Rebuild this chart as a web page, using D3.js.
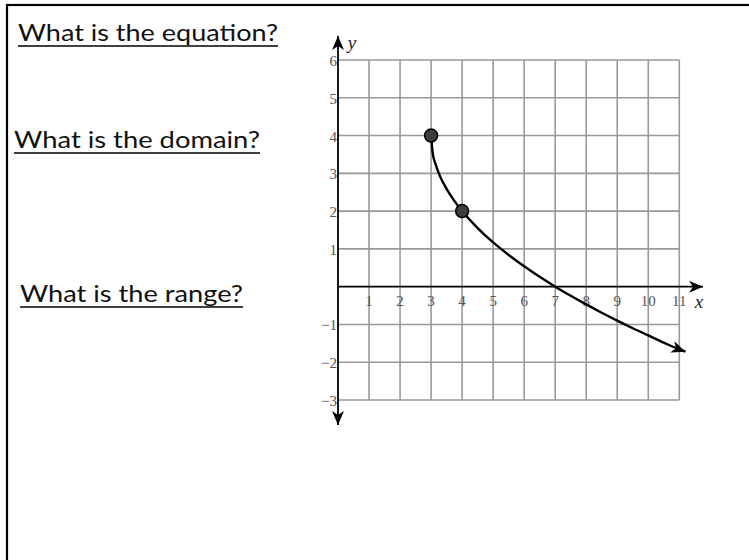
<!DOCTYPE html>
<html>
<head>
<meta charset="utf-8">
<script src="https://cdn.jsdelivr.net/npm/d3@7"></script>
<style>
  html, body { margin: 0; padding: 0; background: #fff; }
  svg { display: block; }
</style>
</head>
<body>
<svg id="chart" width="749" height="560"></svg>
<script>
// Curve samples (x, y) of the graphed function, from its starting point to the arrow tip
const curveX = [3, 3.05, 3.15, 3.3, 3.5, 3.75, 4, 4.5, 5, 5.5, 6, 6.5, 7, 7.5, 8, 8.5, 9, 9.5, 10, 10.5, 11, 11.2];
const curveY = [4, 3.55, 3.23, 2.9, 2.59, 2.27, 2, 1.55, 1.17, 0.84, 0.54, 0.26, 0, -0.24, -0.47, -0.69, -0.9, -1.1, -1.29, -1.48, -1.66, -1.72];

// Highlighted points on the curve
const dotX = [3, 4];
const dotY = [4, 2];

// Axis tick labels
const xTicks = [1, 2, 3, 4, 5, 6, 7, 8, 9, 10, 11];
const yTicks = [-3, -2, -1, 1, 2, 3, 4, 5, 6];

// Grid extents
const xGrid = [0, 1, 2, 3, 4, 5, 6, 7, 8, 9, 10, 11];
const yGrid = [-3, -2, -1, 0, 1, 2, 3, 4, 5, 6];

// Questions beside the graph
const questions = ["What is the equation?", "What is the domain?", "What is the range?"];

const svg = d3.select("#chart");

// Page frame (only top and left edges fall inside the view)
svg.append("rect")
  .attr("x", 7).attr("y", 5)
  .attr("width", 760).attr("height", 580)
  .attr("fill", "none").attr("stroke", "#000").attr("stroke-width", 2.2);

// Questions
const qPos = [
  { x: 18, y: 41, w: 260, u: 46 },
  { x: 14, y: 148, w: 246, u: 153 },
  { x: 20, y: 302, w: 223, u: 307 }
];
questions.forEach((q, i) => {
  const p = qPos[i];
  svg.append("text")
    .attr("x", p.x).attr("y", p.y)
    .attr("font-family", "Lato, 'Open Sans', sans-serif")
    .attr("font-size", 23.5)
    .attr("fill", "#111")
    .attr("textLength", p.w)
    .attr("lengthAdjust", "spacingAndGlyphs")
    .text(q);
  svg.append("line")
    .attr("x1", p.x).attr("x2", p.x + p.w)
    .attr("y1", p.u).attr("y2", p.u)
    .attr("stroke", "#000").attr("stroke-width", 1.6);
});

// Scales
const x = d3.scaleLinear().domain([0, 11]).range([338, 679.3]);
const y = d3.scaleLinear().domain([-3, 6]).range([400, 60]);

// Grid
const grid = svg.append("g").attr("stroke", "#999").attr("stroke-width", 1.6);
grid.selectAll("line.v").data(xGrid.slice(1)).join("line")
  .attr("class", "v")
  .attr("x1", d => x(d)).attr("x2", d => x(d))
  .attr("y1", y(6)).attr("y2", y(-3));
grid.selectAll("line.h").data(yGrid.filter(d => d !== 0)).join("line")
  .attr("class", "h")
  .attr("x1", x(0)).attr("x2", x(11))
  .attr("y1", d => y(d)).attr("y2", d => y(d));

// Arrowhead marker
const defs = svg.append("defs");
defs.append("marker")
  .attr("id", "arrow")
  .attr("viewBox", "-14 -7 16 14")
  .attr("markerWidth", 16).attr("markerHeight", 14)
  .attr("markerUnits", "userSpaceOnUse")
  .attr("refX", 0).attr("refY", 0)
  .attr("orient", "auto")
  .append("path")
  .attr("d", "M0,0 L-14,-6 L-10,0 L-14,6 Z")
  .attr("fill", "#000");

// Axes
svg.append("line")
  .attr("x1", x(0)).attr("x2", 703)
  .attr("y1", y(0)).attr("y2", y(0))
  .attr("stroke", "#000").attr("stroke-width", 1.8)
  .attr("marker-end", "url(#arrow)");
svg.append("line")
  .attr("x1", x(0)).attr("x2", x(0))
  .attr("y1", 230).attr("y2", 36)
  .attr("stroke", "#000").attr("stroke-width", 1.8)
  .attr("marker-end", "url(#arrow)");
svg.append("line")
  .attr("x1", x(0)).attr("x2", x(0))
  .attr("y1", 230).attr("y2", 425)
  .attr("stroke", "#000").attr("stroke-width", 1.8)
  .attr("marker-end", "url(#arrow)");

// Tick labels
const tickFont = "'Liberation Serif', 'DejaVu Serif', serif";
svg.append("g").selectAll("text").data(xTicks).join("text")
  .attr("x", d => x(d)).attr("y", y(0) + 19)
  .attr("text-anchor", "middle")
  .attr("font-family", tickFont).attr("font-size", 15)
  .attr("fill", "#555")
  .text(d => d);
svg.append("g").selectAll("text").data(yTicks).join("text")
  .attr("x", 337).attr("y", d => y(d) + 6)
  .attr("text-anchor", "end")
  .attr("font-family", tickFont).attr("font-size", 15)
  .attr("fill", "#555")
  .text(d => d < 0 ? "\u2212" + Math.abs(d) : d);

// Axis names
svg.append("text")
  .attr("x", 699).attr("y", 308)
  .attr("text-anchor", "middle")
  .attr("font-family", tickFont).attr("font-style", "italic").attr("font-size", 19)
  .attr("fill", "#222").text("x");
svg.append("text")
  .attr("x", 352).attr("y", 49)
  .attr("text-anchor", "middle")
  .attr("font-family", tickFont).attr("font-style", "italic").attr("font-size", 19)
  .attr("fill", "#222").text("y");

// Curve
const pts = curveX.map((d, i) => [d, curveY[i]]);
const line = d3.line()
  .x(d => x(d[0])).y(d => y(d[1]))
  .curve(d3.curveMonotoneX);
svg.append("path")
  .attr("d", line(pts))
  .attr("fill", "none")
  .attr("stroke", "#000").attr("stroke-width", 2.4)
  .attr("marker-end", "url(#arrow)");

// Points
svg.append("g").selectAll("circle").data(dotX).join("circle")
  .attr("cx", d => x(d)).attr("cy", (d, i) => y(dotY[i]))
  .attr("r", 6.5)
  .attr("fill", "#3d3d3d")
  .attr("stroke", "#000").attr("stroke-width", 1.5);
</script>
</body>
</html>
